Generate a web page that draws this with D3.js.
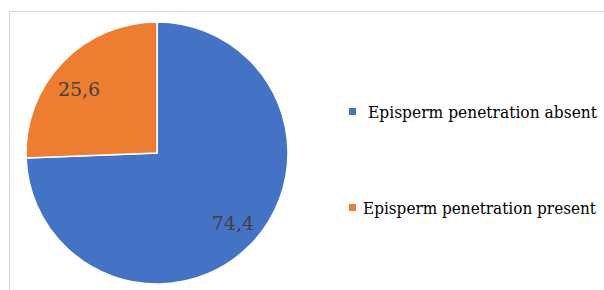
<!DOCTYPE html>
<html>
<head>
<meta charset="utf-8">
<script src="https://d3js.org/d3.v7.min.js"></script>
<style>
body {margin: 0; background: #fff;}
svg {display: block;}
</style>
</head>
<body>
<div id="chart"></div>
<script>
// chart data
var categories = ["Episperm penetration absent", "Episperm penetration present"];
var values = [74.4, 25.6];
var labels = ["74,4", "25,6"];
var colors = ["#4472C4", "#ED7D31"];

var width = 604;
var height = 290;
var cx = 157, cy = 153, radius = 131;
var serif = "'DejaVu Serif', serif";

var svg = d3.select("#chart").append("svg")
	.attr("width", width)
	.attr("height", height);

// chart frame
svg.append("rect")
	.attr("x", 9.5)
	.attr("y", 11.5)
	.attr("width", 620)
	.attr("height", 300)
	.attr("fill", "none")
	.attr("stroke", "#d9d9d9")
	.attr("stroke-width", 1);

var pie = d3.pie().sort(null).value(function(d) { return d; });
var arc = d3.arc().innerRadius(0).outerRadius(radius);

var g = svg.append("g").attr("transform", "translate(" + cx + "," + cy + ")");

var arcs = pie(values);

g.selectAll("path")
	.data(arcs)
	.enter().append("path")
	.attr("d", arc)
	.attr("fill", function(d, i) { return colors[i]; })
	.attr("stroke", "#fff")
	.attr("stroke-width", 1.5);

// data labels
var labelArc = d3.arc().innerRadius(radius * 0.72).outerRadius(radius * 0.72);
g.selectAll("text.lbl")
	.data(arcs)
	.enter().append("text")
	.attr("class", "lbl")
	.attr("x", function(d, i) {
		var c = labelArc.centroid(d);
		return i == 0 ? c[0] + 8 : c[0] - 10;
	})
	.attr("y", function(d, i) {
		var c = labelArc.centroid(d);
		return i == 0 ? c[1] + 12 : c[1] + 8;
	})
	.attr("text-anchor", "middle")
	.style("font-family", serif)
	.style("font-size", "19px")
	.attr("fill", "#404040")
	.text(function(d, i) { return labels[i]; });

// legend
var legendY = d3.scalePoint().domain(categories).range([112, 208]);
var legend = svg.selectAll("g.legend")
	.data(categories)
	.enter().append("g")
	.attr("class", "legend")
	.attr("transform", function(d) { return "translate(349," + legendY(d) + ")"; });

legend.append("rect")
	.attr("x", 0)
	.attr("y", -4)
	.attr("width", 7)
	.attr("height", 7)
	.attr("fill", function(d, i) { return colors[i]; });

legend.append("text")
	.attr("x", function(d, i) { return i == 0 ? 19 : 14; })
	.attr("y", 6)
	.style("font-family", serif)
	.style("font-size", "16px")
	.attr("fill", "#000")
	.attr("textLength", function(d, i) { return i == 0 ? 229 : 233; })
	.attr("lengthAdjust", "spacingAndGlyphs")
	.text(function(d) { return d; });
</script>
</body>
</html>
